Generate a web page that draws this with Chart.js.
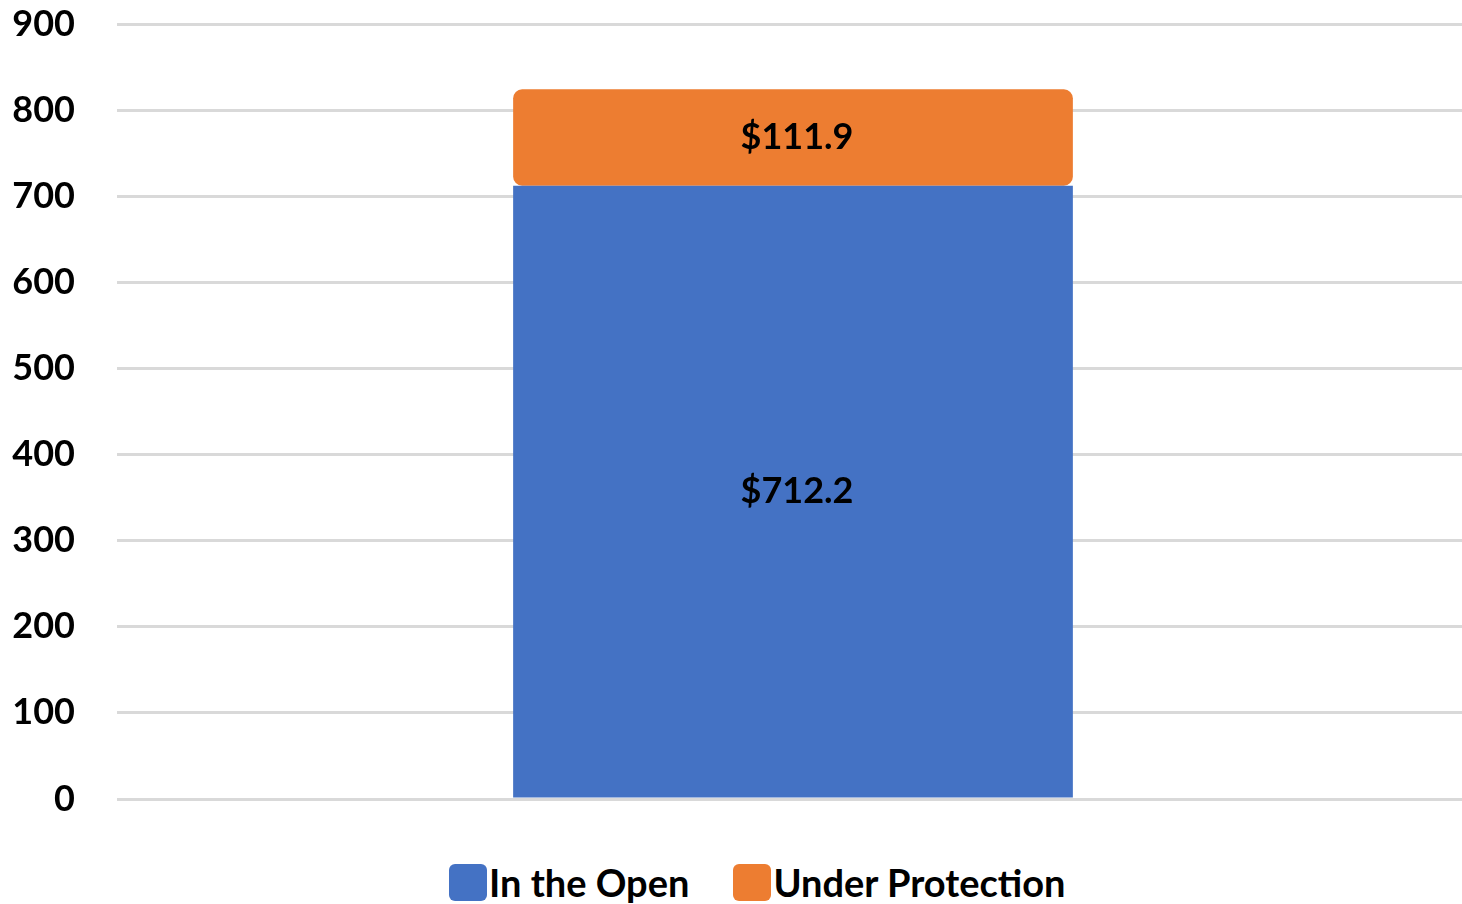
<!DOCTYPE html>
<html>
<head>
<meta charset="utf-8">
<script src="https://cdn.jsdelivr.net/npm/chart.js@4"></script>
<style>
  html, body { margin: 0; padding: 0; background: #fff; overflow: hidden; }
  #wrap { position: relative; width: 1462px; height: 904px; overflow: hidden; }
  #box { position: absolute; left: 0; top: 0; width: 1469px; height: 819px; }
  #legend { position: absolute; left: 449px; top: 863px; height: 38px; display: flex; align-items: center;
            font-family: Lato, "Noto Sans", sans-serif; font-weight: bold; font-size: 38px; color: #000; }
  .item { display: flex; align-items: center; margin-right: 44px; }
  .sw { width: 38px; height: 37px; border-radius: 6px; margin-right: 2px; }
</style>
</head>
<body>
<div id="wrap">
  <div id="box"><canvas id="myChart"></canvas></div>
  <div id="legend"></div>
</div>
<script>
const categories = ['Total'];
const openValues = [712.2];
const protectedValues = [111.9];
const seriesNames = ['In the Open', 'Under Protection'];
const seriesColors = ['#4472C4', '#ED7D31'];
const yTicks = [0, 100, 200, 300, 400, 500, 600, 700, 800, 900];

const FONT = 'Lato, "Noto Sans", sans-serif';

// draws $ value in the middle of every bar
const barLabels = {
  id: 'barLabels',
  afterDatasetsDraw(chart) {
    const ctx = chart.ctx;
    ctx.save();
    ctx.font = 'bold 36px ' + FONT;
    ctx.fillStyle = '#000';
    ctx.textAlign = 'center';
    ctx.textBaseline = 'middle';
    chart.data.datasets.forEach((ds, i) => {
      const meta = chart.getDatasetMeta(i);
      meta.data.forEach((bar, j) => {
        const p = bar.getCenterPoint();
        ctx.fillText('$' + ds.data[j].toFixed(1), p.x + 4, p.y);
      });
    });
    ctx.restore();
  }
};

const chart = new Chart(document.getElementById('myChart'), {
  type: 'bar',
  data: {
    labels: categories,
    datasets: [{
      label: seriesNames[0],
      data: openValues,
      backgroundColor: seriesColors[0],
      borderWidth: 0,
      barPercentage: 0.414,
      categoryPercentage: 1
    },
    {
      label: seriesNames[1],
      data: protectedValues,
      backgroundColor: seriesColors[1],
      borderWidth: 0,
      borderRadius: 9,
      borderSkipped: false,
      barPercentage: 0.414,
      categoryPercentage: 1
    }]
  },
  options: {
    responsive: true,
    maintainAspectRatio: false,
    animation: false,
    layout: { padding: 0 },
    plugins: {
      tooltip: { enabled: false },
      legend: { display: false }
    },
    scales: {
      x: {
        stacked: true,
        display: false
      },
      y: {
        stacked: true,
        min: 0,
        max: 900,
        afterFit(scale) {
          scale.width = 117;
          scale.paddingTop = 24;
          scale.paddingBottom = 20;
        },
        afterBuildTicks(scale) { scale.ticks = yTicks.map(v => ({ value: v })); },
        border: { display: false },
        grid: { color: '#D9D9D9', lineWidth: 3, drawTicks: false },
        ticks: {
          padding: 42,
          color: '#000',
          font: { family: FONT, size: 36, weight: 'bold' }
        }
      }
    }
  },
  plugins: [barLabels]
});

// legend under the chart
const legendDiv = document.getElementById('legend');
chart.data.datasets.forEach(ds => {
  const item = document.createElement('div');
  item.className = 'item';
  const sw = document.createElement('div');
  sw.className = 'sw';
  sw.style.background = ds.backgroundColor;
  const txt = document.createElement('span');
  txt.textContent = ds.label;
  item.appendChild(sw);
  item.appendChild(txt);
  legendDiv.appendChild(item);
});
</script>
</body>
</html>
